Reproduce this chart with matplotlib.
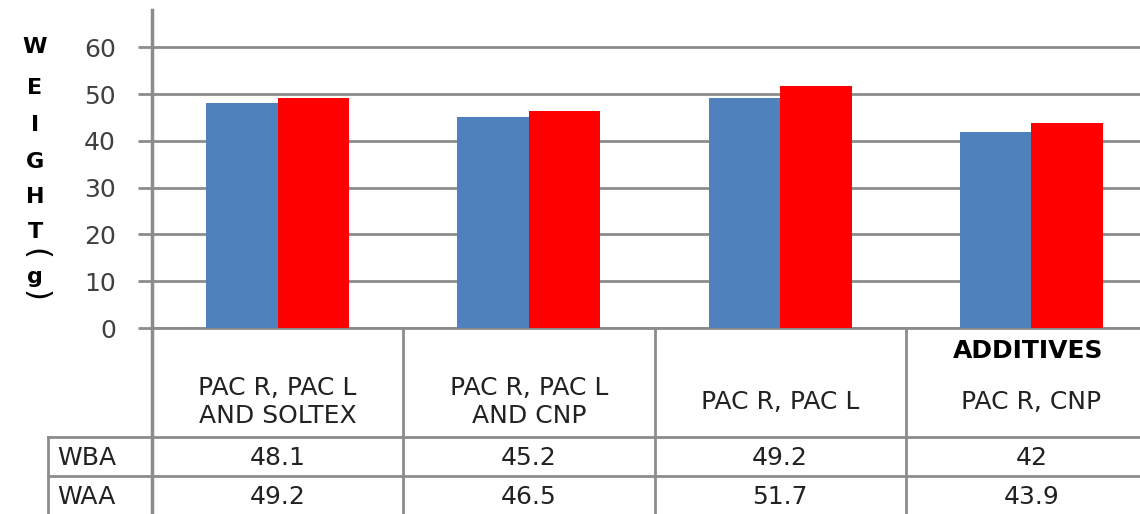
import matplotlib
matplotlib.use('Agg')
import matplotlib.pyplot as plt
import numpy as np

categories = ['PAC R, PAC L\nAND SOLTEX', 'PAC R, PAC L\nAND CNP', 'PAC R, PAC L', 'PAC R, CNP']
wba = [48.1, 45.2, 49.2, 42]
waa = [49.2, 46.5, 51.7, 43.9]
wba_text = ['48.1', '45.2', '49.2', '42']
waa_text = ['49.2', '46.5', '51.7', '43.9']
series_names = ['WBA', 'WAA']
yticks = [0, 10, 20, 30, 40, 50, 60]
ylabel_chars = ['W', 'E', 'I', 'G', 'H', 'T']

W, H = 1140, 514
GRID = '#8c8c8c'
FS = 18
fig = plt.figure(figsize=(W / 100, H / 100), dpi=100)
plt.rcParams['font.family'] = ['DejaVu Sans']

# plot area, in pixels of the picture (it runs past the right edge)
left, right, top, base = 152, 1157, 10, 328
ax = fig.add_axes([left / W, (H - base) / H, (right - left) / W, (base - top) / H])
x = np.arange(len(categories))
bw = 0.285
ax.bar(x - bw / 2, wba, bw, color='#4F81BD', zorder=3)
ax.bar(x + bw / 2, waa, bw, color='#FF0000', zorder=3)
ax.set_xlim(-0.5, len(categories) - 0.5)
ax.set_ylim(0, 68)
ax.set_yticks(yticks)
ax.set_yticklabels([str(t) for t in yticks], fontsize=FS, color='#404040')
ax.set_xticks([])
ax.grid(axis='y', color=GRID, linewidth=2, zorder=0)
for s in ['top', 'right']:
    ax.spines[s].set_visible(False)
ax.spines['left'].set_color(GRID)
ax.spines['left'].set_linewidth(2.5)
ax.spines['bottom'].set_color(GRID)
ax.spines['bottom'].set_linewidth(2)
ax.tick_params(axis='y', length=10, width=2, color=GRID, pad=16)

# data table below the plot
colw = (right - left) / len(categories)
tab = fig.add_axes([0, 0, right / W, (H - base) / H])
x0 = -0.5 - (left - 48) / colw
tab.set_xlim(-0.5 - left / colw, len(categories) - 0.5)
tab.set_ylim(H, base)
tab.axis('off')
for b in np.arange(len(categories)) - 0.5:
    tab.plot([b, b], [base, H + 5], color=GRID, lw=2.5 if b == -0.5 else 2, clip_on=False)
tab.plot([x0, x0], [437, H + 5], color=GRID, lw=2, clip_on=False)
for yy in [437, 476]:
    tab.plot([x0, len(categories)], [yy, yy], color=GRID, lw=2, clip_on=False)

for i, c in enumerate(categories):
    tab.text(i, 402, c, ha='center', va='center', fontsize=FS, color='#222222', linespacing=1.25)
    tab.text(i, 458, wba_text[i], ha='center', va='center', fontsize=FS, color='#222222')
    tab.text(i, 497, waa_text[i], ha='center', va='center', fontsize=FS, color='#222222')
for name, yy in zip(series_names, [458, 497]):
    tab.text(x0 + 0.035, yy, name, ha='left', va='center', fontsize=FS, color='#222222')
tab.text(3.5 - (1157 - 953) / colw, 351, 'ADDITIVES', ha='left', va='center',
         fontsize=FS, fontweight='bold', color='black')

# stacked y axis title, brackets turned sideways as in the original
for ch, yy in zip(ylabel_chars, [47, 88, 125, 162, 197, 232]):
    fig.text(35 / W, 1 - yy / H, ch, ha='center', va='center', fontsize=16, fontweight='bold')
fig.text(35 / W, 1 - 254 / H, '(', ha='center', va='center', fontsize=22, rotation=270)
fig.text(35 / W, 1 - 277 / H, 'g', ha='center', va='center', fontsize=16, fontweight='bold')
fig.text(35 / W, 1 - 296 / H, ')', ha='center', va='center', fontsize=22, rotation=270)

fig.savefig('out.png', dpi=100)
